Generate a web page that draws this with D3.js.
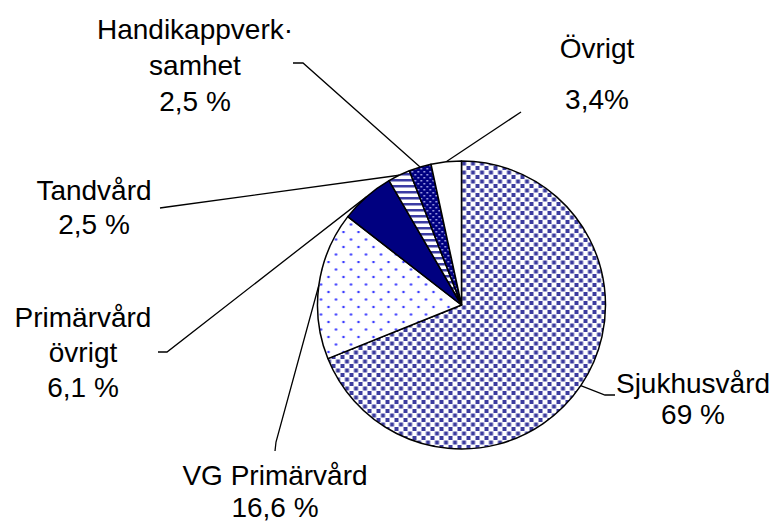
<!DOCTYPE html>
<html>
<head>
<meta charset="utf-8">
<title>Kostnader per verksamhet</title>
<script src="https://d3js.org/d3.v7.min.js"></script>
<style>
  body { margin: 0; background: #fff; }
  text { font-family: "Liberation Sans", Arial, sans-serif; font-size: 28px; fill: #000; }
</style>
</head>
<body>
<script>
// data
var categories = ["Sjukhusvård", "VG Primärvård", "Primärvård övrigt", "Tandvård", "Handikappverksamhet", "Övrigt"];
var values = [69, 16.6, 6.1, 2.5, 2.5, 3.4];
var labelLines = [
    ["Sjukhusvård", "69 %"],
    ["VG Primärvård", "16,6 %"],
    ["Primärvård", "övrigt", "6,1 %"],
    ["Tandvård", "2,5 %"],
    ["Handikappverk·", "samhet", "2,5 %"],
    ["Övrigt", "3,4%"]
];

// layout
var width = 781, height = 522;
var cx = 461.5, cy = 305, radius = 144;
var labelPos = [[693, 393], [275, 485], [83, 327], [94, 200], [195, 39], [597, 58]];
var lineHeight = [31, 32, 35, 34, 36, 51];
var leaderFrom = [
    [[615, 395], [605, 395]],
    [[275, 451], [276, 442]],
    [[158, 352], [167, 352]],
    [[160, 208], [167, 207]],
    [[293, 63], [303, 63]],
    [[521, 112]]
];

var svg = d3.select("body").append("svg")
    .attr("width", width)
    .attr("height", height);

var defs = svg.append("defs");

// Sjukhusvård: blue squares
var p0 = defs.append("pattern").attr("id", "pat0")
    .attr("patternUnits", "userSpaceOnUse").attr("width", 9).attr("height", 9);
p0.append("rect").attr("width", 9).attr("height", 9).attr("fill", "#fff");
p0.append("rect").attr("x", 0.5).attr("y", 0.5).attr("width", 4).attr("height", 4).attr("fill", "#3c3c9e");
p0.append("rect").attr("x", 5).attr("y", 5).attr("width", 4).attr("height", 4).attr("fill", "#3c3c9e");

// VG Primärvård: sparse blue dots
var p1 = defs.append("pattern").attr("id", "pat1")
    .attr("patternUnits", "userSpaceOnUse").attr("width", 15).attr("height", 15);
p1.append("rect").attr("width", 15).attr("height", 15).attr("fill", "#fff");
p1.append("circle").attr("cx", 2).attr("cy", 2).attr("r", 1.3).attr("fill", "#3c3cff");
p1.append("circle").attr("cx", 9.5).attr("cy", 9.5).attr("r", 1.3).attr("fill", "#3c3cff");

// Tandvård: horizontal stripes
var p3 = defs.append("pattern").attr("id", "pat3")
    .attr("patternUnits", "userSpaceOnUse").attr("width", 6).attr("height", 6);
p3.append("rect").attr("width", 6).attr("height", 6).attr("fill", "#fff");
p3.append("rect").attr("y", 0).attr("width", 6).attr("height", 2.5).attr("fill", "#3c3ca4");

// Handikapp: navy with light dots
var p4 = defs.append("pattern").attr("id", "pat4")
    .attr("patternUnits", "userSpaceOnUse").attr("width", 6).attr("height", 6);
p4.append("rect").attr("width", 6).attr("height", 6).attr("fill", "#000080");
p4.append("rect").attr("x", 1).attr("y", 1).attr("width", 1.5).attr("height", 1.5).attr("fill", "#c8c8ff");
p4.append("rect").attr("x", 4).attr("y", 4).attr("width", 1.5).attr("height", 1.5).attr("fill", "#c8c8ff");

var fills = ["url(#pat0)", "url(#pat1)", "#000080", "url(#pat3)", "url(#pat4)", "#fff"];

var pie = d3.pie().sort(null).value(function(d) { return d; });
var arcs = pie(values);
var arc = d3.arc().innerRadius(0).outerRadius(radius);

var g = svg.append("g").attr("transform", "translate(" + cx + "," + cy + ")");

g.selectAll("path.slice")
    .data(arcs)
    .enter().append("path")
    .attr("class", "slice")
    .attr("d", arc)
    .attr("fill", function(d, i) { return fills[i]; })
    .attr("stroke", "#000")
    .attr("stroke-width", 1.5)
    .attr("stroke-linejoin", "round");

// leader lines
var line = d3.line();
svg.selectAll("path.leader")
    .data(arcs)
    .enter().append("path")
    .attr("class", "leader")
    .attr("fill", "none")
    .attr("stroke", "#000")
    .attr("stroke-width", 1.3)
    .attr("d", function(d, i) {
        var a = (d.startAngle + d.endAngle) / 2;
        var end = [cx + radius * Math.sin(a), cy - radius * Math.cos(a)];
        return line(leaderFrom[i].concat([end]));
    });

// labels
var labels = svg.selectAll("text.lbl")
    .data(labelLines)
    .enter().append("text")
    .attr("class", "lbl")
    .attr("text-anchor", "middle");

labels.selectAll("tspan")
    .data(function(d, i) { return d.map(function(t) { return { t: t, i: i }; }); })
    .enter().append("tspan")
    .attr("x", function(d) { return labelPos[d.i][0]; })
    .attr("y", function(d, j) { return labelPos[d.i][1] + j * lineHeight[d.i]; })
    .text(function(d) { return d.t; });
</script>
</body>
</html>
